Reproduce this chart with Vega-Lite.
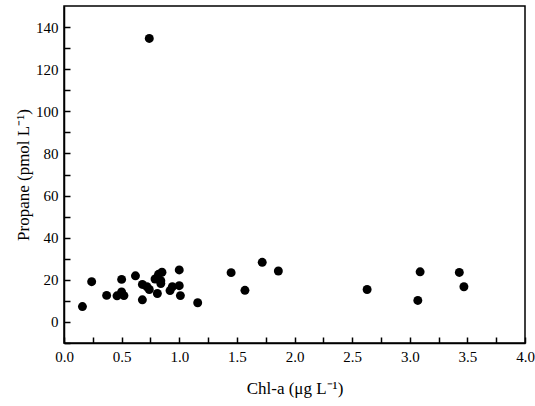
{
  "$schema": "https://vega.github.io/schema/vega-lite/v6.json",
  "autosize": "none",
  "width": 461,
  "height": 337,
  "padding": {"left": 64, "top": 6, "right": 10, "bottom": 63},
  "background": "white",
  "config": {
    "view": {"stroke": "black", "strokeWidth": 1.5},
    "font": "Liberation Serif",
    "axis": {"labelFont": "Liberation Serif", "titleFont": "Liberation Serif", "grid": false, "domainColor": "black", "tickColor": "black", "labelColor": "black", "titleColor": "black", "titleFontWeight": "normal", "domainWidth": 1.5, "tickWidth": 1.5, "ticks": true}
  },
  "data": {"values": [
    {"chl": 0.16, "propane": 7.3},
    {"chl": 0.24, "propane": 19.1},
    {"chl": 0.37, "propane": 12.6},
    {"chl": 0.46, "propane": 12.4},
    {"chl": 0.50, "propane": 20.2},
    {"chl": 0.50, "propane": 14.2},
    {"chl": 0.52, "propane": 12.5},
    {"chl": 0.62, "propane": 21.9},
    {"chl": 0.68, "propane": 10.5},
    {"chl": 0.68, "propane": 17.8},
    {"chl": 0.72, "propane": 16.7},
    {"chl": 0.74, "propane": 15.4},
    {"chl": 0.79, "propane": 20.4},
    {"chl": 0.81, "propane": 13.5},
    {"chl": 0.82, "propane": 22.6},
    {"chl": 0.85, "propane": 23.6},
    {"chl": 0.84, "propane": 18.2},
    {"chl": 0.84, "propane": 19.6},
    {"chl": 0.92, "propane": 14.9},
    {"chl": 0.94, "propane": 16.7},
    {"chl": 1.00, "propane": 24.7},
    {"chl": 1.00, "propane": 17.2},
    {"chl": 1.01, "propane": 12.5},
    {"chl": 1.16, "propane": 9.1},
    {"chl": 1.45, "propane": 23.4},
    {"chl": 1.57, "propane": 15.0},
    {"chl": 1.72, "propane": 28.3},
    {"chl": 1.86, "propane": 24.2},
    {"chl": 2.63, "propane": 15.4},
    {"chl": 3.07, "propane": 10.2},
    {"chl": 3.09, "propane": 23.8},
    {"chl": 3.43, "propane": 23.5},
    {"chl": 3.47, "propane": 16.7},
    {"chl": 0.74, "propane": 134.6}
  ]},
  "mark": {"type": "point", "filled": true, "color": "black", "opacity": 1, "size": 80},
  "encoding": {
    "x": {"field": "chl", "type": "quantitative", "scale": {"domain": [0, 4], "nice": false, "zero": false},
      "axis": {"orient": "bottom", "title": "Chl-a (μg L⁻¹)",
        "values": [0, 0.25, 0.5, 0.75, 1, 1.25, 1.5, 1.75, 2, 2.25, 2.5, 2.75, 3, 3.25, 3.5, 3.75, 4],
        "labelExpr": "datum.value % 0.5 === 0 ? format(datum.value, '.1f') : ''",
        "tickSize": -6, "labelPadding": 12, "labelFont": "Liberation Serif", "labelFontSize": 15,
        "titleFont": "Liberation Serif", "titleFontSize": 17, "titlePadding": 16, "labelFlush": false, "labelOverlap": false,
        "encode": {"ticks": {"update": {"y2": {"signal": "datum.value % 0.5 === 0 ? -6 : -3"}}}}}},
    "y": {"field": "propane", "type": "quantitative", "scale": {"domain": [-10, 150], "nice": false, "zero": false},
      "axis": {"orient": "left", "title": "Propane (pmol L⁻¹)",
        "values": [-10, 0, 10, 20, 30, 40, 50, 60, 70, 80, 90, 100, 110, 120, 130, 140],
        "labelExpr": "datum.value % 20 === 0 ? datum.label : ''",
        "tickSize": -6, "labelPadding": 12, "labelFont": "Liberation Serif", "labelFontSize": 15,
        "titleFont": "Liberation Serif", "titleFontSize": 17, "titlePadding": 3, "labelOverlap": false,
        "encode": {"ticks": {"update": {"x2": {"signal": "datum.value % 20 === 0 ? 6 : 3"}}}}}}
  }
}
